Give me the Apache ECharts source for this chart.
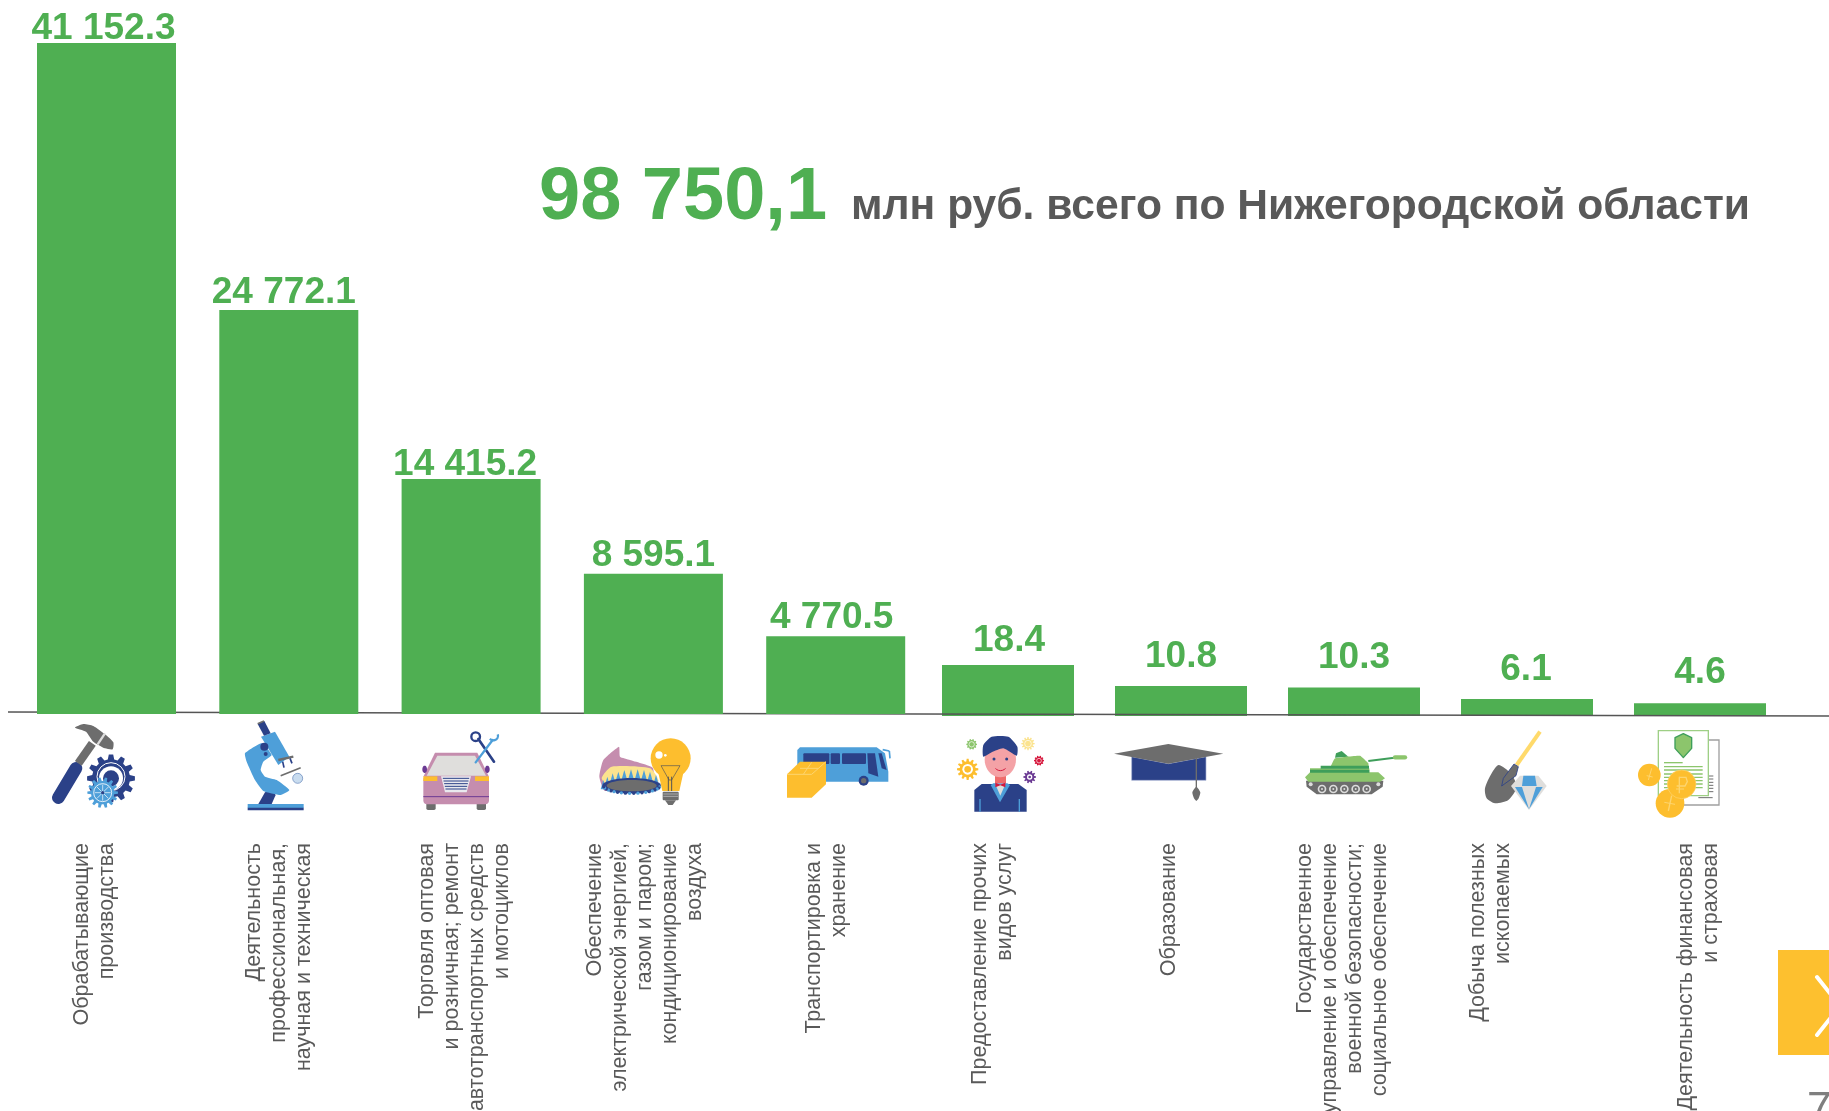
<!DOCTYPE html>
<html><head><meta charset="utf-8">
<style>html,body{margin:0;padding:0;background:#fff;overflow:hidden}#c{width:1829px;height:1111px}</style>
<script src="https://cdn.jsdelivr.net/npm/echarts@6/dist/echarts.min.js"></script></head>
<body><div id="c"></div>
<script>
const categoriesLarge = ["Обрабатывающие\nпроизводства","Деятельность\nпрофессиональная,\nнаучная и техническая","Торговля оптовая\nи розничная; ремонт\nавтотранспортных средств\nи мотоциклов","Обеспечение\nэлектрической энергией,\nгазом и паром;\nкондиционирование\nвоздуха","Транспортировка и\nхранение"];
const valuesLarge = [41152.3,24772.1,14415.2,8595.1,4770.5];
const categoriesSmall = ["Предоставление прочих\nвидов услуг","Образование","Государственное\nуправление и обеспечение\nвоенной безопасности;\nсоциальное обеспечение","Добыча полезных\nископаемых","Деятельность финансовая\nи страховая"];
const valuesSmall = [18.4,10.8,10.3,6.1,4.6];
const totalText = "98 750,1";
const subtitleText = "млн руб. всего по Нижегородской области";

// label placement tweaks, kept apart from the data
const gapLarge = [-4,-1,-4,0,0], shiftLarge = [-3,-5,-6,0,-4];
const gapSmall = [6,11,11,11,12], shiftSmall = [1,0,0,-1,0];
const catShiftLarge = [12,10,7,8,9], catShiftSmall = [15,12,11,36,1];

const FONT = '"Liberation Sans", Arial, sans-serif';
const GREEN = '#4FAF52', GRAY = '#595959';
const NAVY='#2B4188', BLUE='#4E9FD9', MID='#6D6D6D', YEL='#FDBE2E', PINK='#C58DAE', LG='#8CC56C', DG='#3E9E5A', PALE='#DFDEDC';

const fmt = p => p.value.toFixed(1).replace(/\B(?=(\d{3})+(?!\d))/g,' ');
const vals = (v,gap,shift) => v.map((x,i)=>({value:x,label:{distance:gap[i],offset:[shift[i],0]}}));

// icon drawing helpers: coordinates are in 3x crop space, then scaled down by the group
const P=(pts,fill,extra)=>({type:'polygon',shape:{points:pts},style:Object.assign({fill},extra||{})});
const S=(pts,fill,sm)=>({type:'polygon',shape:{points:pts,smooth:sm||0.4},style:{fill}});
const C=(x,y,r,fill,extra)=>({type:'circle',shape:{cx:x,cy:y,r},style:Object.assign({fill},extra||{})});
const L=(a,b,c,d,color,w,cap)=>({type:'line',shape:{x1:a,y1:b,x2:c,y2:d},style:{stroke:color,lineWidth:w,lineCap:cap||'butt'}});
const R=(x,y,w,h,fill,r)=>({type:'rect',shape:{x,y,width:w,height:h,r:r||0},style:{fill}});
const E=(x,y,rx,ry,fill)=>{const p=[];for(let i=0;i<40;i++){const a=i/40*2*Math.PI;p.push([x+rx*Math.cos(a),y+ry*Math.sin(a)]);}return P(p,fill);};
const gear=(x,y,ro,ri,n,fill)=>{const p=[];for(let i=0;i<n;i++){const a=i/n*2*Math.PI,d=Math.PI/n*0.5;
  p.push([x+ri*Math.cos(a-d*1.3),y+ri*Math.sin(a-d*1.3)],[x+ro*Math.cos(a-d*.7),y+ro*Math.sin(a-d*.7)],[x+ro*Math.cos(a+d*.7),y+ro*Math.sin(a+d*.7)],[x+ri*Math.cos(a+d*1.3),y+ri*Math.sin(a+d*1.3)]);}
  return P(p,fill);};
const ring=(x,y,r,color,w)=>C(x,y,r,'none',{stroke:color,lineWidth:w});

const crop1 = [
 // hammer and gears
 L(85,248,138,160,NAVY,38,'round'),L(145,145,187,85,MID,25),
 S([[135,38],[160,27],[190,33],[225,58],[250,82],[248,103],[225,100],[190,80],[168,50]],MID,0.2),
 L(203,88,225,55,'#DDD',7),
 gear(243,190,72,57,12,NAVY),C(243,190,36,'#fff'),ring(243,185,42,'#fff',3),C(243,190,24,NAVY),
 gear(218,233,46,35,14,BLUE),ring(218,233,27,'#fff',2.5),L(194,233,242,233,'#fff',2),L(218,209,218,257,'#fff',2),L(201,216,235,250,'#fff',2),L(235,216,201,250,'#fff',2),C(218,233,5,NAVY),
 // microscope
 R(653,267,168,12,BLUE),R(653,278,168,8,NAVY),
 P([[685,267],[705,232],[725,225],[737,240],[725,267]],NAVY),
 S([[645,115],[695,85],[725,120],[700,140],[692,165],[705,185],[740,195],[778,225],[752,240],[700,228],[675,195],[650,140]],BLUE,0.15),
 P([[693,65],[735,50],[778,125],[745,150]],BLUE),
 P([[683,27],[703,18],[722,55],[702,62]],NAVY),L(683,26,702,18,MID,5),
 C(703,95,12,NAVY),C(707,117,6,NAVY),
 L(745,135,790,125,MID,7),L(758,140,762,158,NAVY,5),L(780,130,786,145,NAVY,5),
 L(752,182,812,158,MID,5),L(765,192,775,215,'#fff',8),C(803,190,15,'#C9DCEF',{stroke:'#5C7FB5',lineWidth:2}),
 // car
 R(1189,262,28,23,MID,5),R(1340,262,28,23,MID,5),
 P([[1180,185],[1215,113],[1342,113],[1377,185]],PINK),R(1180,183,197,85,PINK,12),
 P([[1190,182],[1222,122],[1335,122],[1368,182]],PALE),
 E(1184,163,7,11,'#6B3A93'),E(1372,163,7,11,'#6B3A93'),
 R(1180,184,42,14,YEL),R(1335,184,42,14,YEL),
 P([[1233,184],[1323,184],[1310,232],[1245,232]],'#E9E9EE'),
 ...[190,198,206,214,222].map(y=>L(1237+(y-184)/4,y,1319-(y-184)/4,y,NAVY,3)),
 L(1180,245,1377,245,'#6B3A93',3),
 L(1345,72,1392,140,NAVY,8,'round'),ring(1337,65,13,NAVY,7),
 L(1337,142,1388,75,BLUE,7,'round'),
 {type:'arc',shape:{cx:1390,cy:62,r:14,startAngle:-0.3,endAngle:2.4,clockwise:true},style:{stroke:BLUE,lineWidth:7,fill:'none'}}
];

const burnerTeeth=[];[[100,195],[112,185],[128,175],[145,170],[163,165],[183,163],[203,163],[222,165],[240,170],[258,180]].forEach(([x,y])=>burnerTeeth.push(P([[x-8,y+28],[x,y],[x+8,y+28]],BLUE)));
const burnerDots=[];for(let i=0;i<20;i++){const a=Math.PI*(0.05+0.9*i/19);burnerDots.push(C(185+85*Math.cos(a),212+23*Math.sin(a),5,i%2?NAVY:BLUE));}
const crop2 = [
 // burner and bulb
 S([[88,185],[100,135],[147,95],[150,125],[180,135],[248,158],[250,205],[105,228]],PINK,0.15),
 S([[95,190],[125,155],[240,160],[265,200],[130,228]],'#FBE38E',0.2),
 ...burnerTeeth,E(185,212,88,23,NAVY),E(185,212,75,17,MID),...burnerDots,
 C(302,130,60,YEL),P([[262,160],[343,160],[328,228],[277,228]],YEL),
 P([[273,152],[330,152],[305,195],[297,195]],'none',{stroke:'#555',lineWidth:2}),L(295,185,295,228,'#555',3),L(305,185,305,228,'#555',3),
 R(278,230,48,26,MID,3),L(280,237,324,237,'#ccc',2),L(280,244,324,244,'#ccc',2),P([[285,256],[318,256],[308,270],[295,270]],MID),
 C(267,120,11,'#fff'),C(286,121,4,'#fff'),
 // bus and box
 P([[682,105],[690,97],[920,97],[945,115],[955,170],[955,200],[682,200]],BLUE),
 R(700,115,78,32,NAVY,3),R(782,115,28,32,NAVY,3),R(816,115,72,32,NAVY,3),
 P([[892,115],[915,115],[925,185],[895,175]],NAVY),P([[925,115],[935,115],[950,165],[935,160]],NAVY),
 L(938,104,958,108,BLUE,5),L(958,108,960,130,BLUE,5),
 C(881,197,15,NAVY),C(881,197,8,MID),
 P([[651,178],[690,140],[768,140],[768,208],[725,248],[651,248]],YEL),
 L(651,178,725,178,'#FDD56F',3),L(725,178,768,140,'#FDD56F',3),L(690,160,745,160,'#FDD56F',3),L(700,178,725,142,'#FDD56F',3),
 // man with gears
 P([[1213,290],[1213,225],[1235,207],[1345,207],[1370,225],[1370,290]],NAVY),
 P([[1262,210],[1290,262],[1320,210],[1312,205],[1270,205]],BLUE),
 P([[1277,210],[1305,210],[1291,242]],PALE),
 L(1230,252,1230,290,BLUE,4),L(1348,252,1348,290,BLUE,4),
 R(1275,183,33,22,'#EF6B6B'),
 P([[1276,203],[1291,209],[1306,203],[1306,217],[1291,211],[1276,217]],'#D6173C'),
 E(1291,133,47,54,'#F4A2A6'),
 S([[1240,125],[1240,90],[1265,65],[1315,65],[1342,95],[1340,122],[1300,100],[1265,112]],NAVY,0.2),
 C(1272,132,4.5,NAVY),C(1310,132,4.5,NAVY),
 {type:'polyline',shape:{points:[[1276,160],[1291,167],[1307,160]],smooth:0.6},style:{stroke:'#D6173C',lineWidth:3,fill:'none'}},
 gear(1193,163,32,24,12,YEL),C(1193,163,16,'#fff'),C(1193,163,10,YEL),
 gear(1379,186,19,14,10,'#6B3A93'),C(1379,186,8,'#fff'),C(1379,186,4,'#6B3A93'),
 gear(1407,137,15,12,10,'#D6173C'),ring(1407,137,7,'#fff',2),
 gear(1374,86,20,15,12,'#FBE38E'),ring(1374,86,10,'#fff',2),
 gear(1205,88,16,13,10,LG),ring(1205,88,8,'#fff',2)
];

const wheels=[696,730,763,797,830].flatMap(x=>[C(x,222,13,'#DDD'),C(x,222,8,MID),C(x,222,3,'#DDD')]);
const crop3 = [
 // graduation cap
 P([[125,125],[235,146],[348,125],[348,196],[125,196]],NAVY,{stroke:'#A9B4D4',lineWidth:2}),
 P([[72,116],[235,87],[400,116],[235,146]],MID),
 L(319,130,319,222,MID,4),S([[307,232],[319,215],[331,232],[326,250],[319,258],[312,250]],MID,0.2),
 // tank
 L(835,138,925,127,DG,6),L(915,127,945,127,LG,13,'round'),
 P([[735,128],[738,115],[755,108],[775,125]],DG),
 S([[722,155],[735,130],[810,122],[835,145],[835,160],[722,160]],LG,0.1),
 P([[648,197],[880,197],[878,215],[845,238],[680,238],[650,215]],MID),
 P([[660,160],[838,160],[838,172],[865,172],[885,190],[870,200],[655,200],[645,187],[660,172]],LG),
 R(692,152,145,9,DG),R(660,164,178,9,DG),
 C(662,208,6,'#ddd'),C(865,208,6,'#ddd'),...wheels,
 // shovel and diamond
 L(1280,150,1350,50,'#FFDA6B',12),
 S([[1226,150],[1262,175],[1280,215],[1255,255],[1215,265],[1190,250],[1185,220],[1205,175]],MID,0.25),
 P([[1272,147],[1285,155],[1278,182],[1235,213],[1240,190]],MID,{stroke:NAVY,lineWidth:2.5}),
 P([[1290,182],[1345,182],[1370,213],[1317,285],[1263,213]],PALE),
 P([[1300,182],[1335,182],[1340,213],[1296,213]],BLUE),
 P([[1275,216],[1296,216],[1317,283]],BLUE),P([[1338,216],[1358,216],[1317,283]],BLUE)
];

const paperLines=[[132,143,188],[132,155,248],[132,165,248],[132,177,248],[132,187,248],[132,197,248],[132,207,248],[132,218,248]];
const crop4 = [
 P([[190,75],[297,75],[297,270],[190,270]],'#fff',{stroke:'#A0A0A0',lineWidth:4}),
 ...[183,192,202,211,220,230].map(y=>L(265,y,280,y,MID,3)),L(235,248,278,248,MID,3),
 P([[115,47],[265,47],[265,242],[115,242]],'#fff',{stroke:'#9ECF85',lineWidth:4}),
 P([[165,68],[190,56],[215,68],[215,100],[190,128],[165,100]],LG,{stroke:DG,lineWidth:4,lineJoin:'round'}),
 ...paperLines.map(a=>L(a[0],a[1],a[2],a[1],LG,4)),
 C(88,180,34,YEL),
 C(150,265,43,YEL),
 C(185,208,43,YEL,{stroke:'#FDD56F',lineWidth:2}),
 L(178,235,178,185,'#FDD56F',4),{type:'polyline',shape:{points:[[178,187],[198,187],[202,200],[195,213],[170,213]]},style:{stroke:'#FDD56F',lineWidth:4,fill:'none'}},L(168,222,192,222,'#FDD56F',3),
 L(145,288,155,242,'#FDD56F',4),L(133,262,165,268,'#FDD56F',3),
 L(85,195,95,160,'#FDD56F',3),L(80,182,98,186,'#FDD56F',3)
];

const group=(x,y,children)=>({type:'group',x,y,scaleX:1/3,scaleY:1/3,z:5,silent:true,children});

const barLabel = {show:true,position:'top',color:GREEN,fontFamily:FONT,fontWeight:'bold',fontSize:37,formatter:fmt};

// axis labels: each category's block is nudged left by an empty spacer line under it
const axisLabelFor = (names, shift, margin) => {
  const rich = {t:{fontFamily:FONT,fontSize:21.5,lineHeight:25,color:GRAY}};
  shift.forEach((d,i)=>{rich['s'+i]={fontSize:1,lineHeight:2*d};});
  return {interval:0,rotate:90,margin,align:'right',verticalAlign:'middle',hideOverlap:false,rich,
    formatter:(v,i)=>v.split('\n').map(l=>'{t|'+l+'}').join('\n')+'\n{s'+i+'| }'};
};

const chart = echarts.init(document.getElementById('c'),null,{renderer:'canvas'});
chart.setOption({
 animation:false,backgroundColor:'#fff',
 title:[
  {text:totalText,left:534,top:157,textStyle:{color:GREEN,fontFamily:FONT,fontWeight:'bold',fontSize:74}},
  {text:subtitleText,left:846,top:181,textStyle:{color:GRAY,fontFamily:FONT,fontWeight:'bold',fontSize:42.6}}
 ],
 grid:[
  {left:15.35,width:911.5,top:29.2,height:684.8,outerBoundsMode:'none'},
  {left:921.5,width:865,top:660.6,height:55.4,outerBoundsMode:'none'}
 ],
 xAxis:[
  {type:'category',gridIndex:0,data:categoriesLarge,axisLine:{show:false},axisTick:{show:false},axisLabel:axisLabelFor(categoriesLarge,catShiftLarge,129)},
  {type:'category',gridIndex:1,data:categoriesSmall,axisLine:{show:false},axisTick:{show:false},axisLabel:axisLabelFor(categoriesSmall,catShiftSmall,127)}
 ],
 yAxis:[
  {type:'value',gridIndex:0,min:0,max:42000,interval:6000,show:false},
  {type:'value',gridIndex:1,min:0,max:20,interval:5,show:false}
 ],
 series:[
  {type:'bar',xAxisIndex:0,yAxisIndex:0,z:3,barWidth:139,itemStyle:{color:GREEN},label:barLabel,data:vals(valuesLarge,gapLarge,shiftLarge)},
  {type:'bar',xAxisIndex:1,yAxisIndex:1,z:1,barWidth:132,itemStyle:{color:GREEN},label:barLabel,data:vals(valuesSmall,gapSmall,shiftSmall)}
 ],
 graphic:[
  {type:'line',z:2,silent:true,shape:{x1:8,y1:712,x2:1829,y2:716},style:{stroke:'#555',lineWidth:1.5}},
  group(30,715,crop1),group(570,715,crop2),group(1090,715,crop3),group(1620,715,crop4),
  {type:'rect',z:5,silent:true,shape:{x:1778,y:950,width:51,height:105},style:{fill:'#FDC02F'}},
  {type:'polyline',z:6,silent:true,shape:{points:[[1817,977],[1840,1006],[1817,1035]]},style:{stroke:'#fff',lineWidth:4,lineCap:'round',fill:'none'}},
  {type:'text',z:5,silent:true,x:1807,y:1089,style:{text:'7',fill:'#7F7F7F',font:'44px "Liberation Sans"'}}
 ]
});
</script></body></html>
